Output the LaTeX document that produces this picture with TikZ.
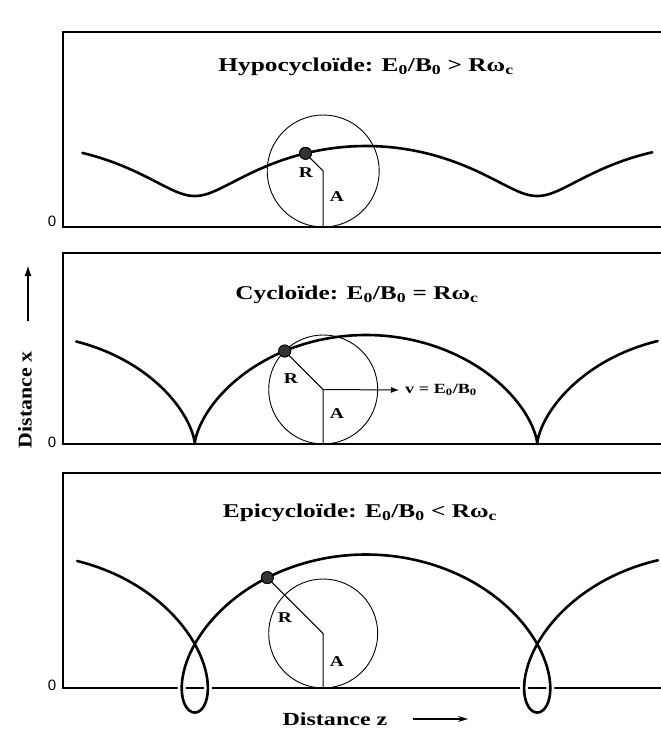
\documentclass[tikz,border=0pt]{standalone}
\usepackage{fontspec}
\setmainfont{Liberation Serif}
\newfontfamily\tfont{Liberation Serif}[FakeStretch=1.3]
\newfontfamily\xfont{Liberation Serif}[FakeStretch=1.12]
\newfontfamily\zerofont{Liberation Sans}
\usetikzlibrary{arrows.meta}
\begin{document}
\begin{tikzpicture}[x=1pt,y=-1pt,
  frame/.style={line width=2pt},
  traj/.style={line width=2.6pt, line join=round, line cap=round},
  wheel/.style={draw, circle, line width=0.9pt, inner sep=0pt},
  rad/.style={line width=1pt},
  ttl/.style={font=\tfont\bfseries\fontsize{19.5}{22}\selectfont, anchor=base, inner sep=0pt},
  lbl/.style={font=\tfont\bfseries\fontsize{15}{17}\selectfont, inner sep=0pt},
  vlbl/.style={font=\tfont\bfseries\fontsize{14}{16}\selectfont, inner sep=0pt},
  zero/.style={font=\zerofont\fontsize{15}{17}\selectfont, inner sep=0pt},
  pdot/.style={circle, draw=black, line width=0.8pt, fill=black!80, inner sep=0pt, minimum size=12pt}
]
\useasboundingbox (0,0) rectangle (661,731);

% ---------- Panel 1 : hypocycloide ----------
\draw[frame] (661,32) -- (63,32) -- (63,227) -- (661,227);
\node[ttl] (t1) at (366,71) {Hypocycloïde: E\textsubscript{0}/B\textsubscript{0} > Rω\textsubscript{c}};
\node[zero] (o1) at (52,221) {0};
\node[wheel, minimum size=112pt] (w1) at (323.2,171) {};
\node[pdot] (p1) at (305.5,153.3) {};
\draw[rad] (p1.center) -- (w1.center) -- (w1.south);
\draw[traj] plot[domain=-5.52:5.56, samples=300, variable=\t] ({366+54.5*\t+25*sin(\t r)}, {171-25*cos(\t r)});
\node[pdot] at (p1) {};
\node[lbl] (r1) at (306,173) {R};
\node[lbl] (a1) at (337,197) {A};

% ---------- Panel 2 : cycloide ----------
\draw[frame] (661,253) -- (63,253) -- (63,444) -- (661,444);
\node[ttl] (t2) at (357,299) {Cycloïde: E\textsubscript{0}/B\textsubscript{0} = Rω\textsubscript{c}};
\node[zero] (o2) at (52,442) {0};
\node[wheel, minimum size=109pt] (w2) at (323.2,389.5) {};
\node[pdot] (p2) at (284.7,351) {};
\draw[rad] (p2.center) -- (w2.center) -- (w2.south);
\node[vlbl, anchor=west] (v2) at (405,390) {v = E\textsubscript{0}/B\textsubscript{0}};
\draw[rad, -{Latex[length=8pt,width=6pt]}] (w2.center) -- ([xshift=-6pt]v2.west);
\draw[traj] plot[domain=-5.79:5.81, samples=400, variable=\t] ({366+54.5*\t+54.5*sin(\t r)}, {389.5-54.5*cos(\t r)});
\node[pdot] at (p2) {};
\node[lbl] (r2) at (291,379) {R};
\node[lbl] (a2) at (337,414) {A};

% ---------- Panel 3 : epicycloide ----------
\draw[frame] (661,473) -- (63,473) -- (63,688) -- (661,688);
\node[ttl] (t3) at (360,517) {Epicycloïde: E\textsubscript{0}/B\textsubscript{0} < Rω\textsubscript{c}};
\node[zero] (o3) at (52,685) {0};
\node[wheel, minimum size=109pt] (w3) at (323.2,633.5) {};
\node[pdot] (p3) at (267.3,577.6) {};
\draw[rad] (p3.center) -- (w3.center) -- (w3.south);
\begin{scope}
  \clip (0,683) rectangle (661,693);
  \draw[white, line width=8pt] plot[domain=-5.875:5.9, samples=400, variable=\t] ({366+54.5*\t+79*sin(\t r)}, {633.5-79*cos(\t r)});
\end{scope}
\draw[traj] plot[domain=-5.875:5.9, samples=400, variable=\t] ({366+54.5*\t+79*sin(\t r)}, {633.5-79*cos(\t r)});
\node[pdot] at (p3) {};
\node[lbl] (r3) at (285,618) {R};
\node[lbl] (a3) at (337,662) {A};

% ---------- Axis labels ----------
\node[font=\tfont\bfseries\fontsize{18.5}{20}\selectfont, anchor=base, inner sep=0pt] (dz) at (335,725) {Distance z};
\coordinate (za) at (413,719);
\coordinate (zb) at (468,719);
\draw[line width=1.3pt, -{Stealth[length=10pt,width=6pt]}] (za) -- (zb);

\node[font=\xfont\bfseries\fontsize{19.5}{20}\selectfont, rotate=90, inner sep=0pt] (dx) at (25,400) {Distance x};
\coordinate (xa) at (28,321);
\coordinate (xb) at (28,265);
\draw[line width=1.8pt, -{Latex[length=11pt,width=7pt]}] (xa) -- (xb);
\end{tikzpicture}
\end{document}
